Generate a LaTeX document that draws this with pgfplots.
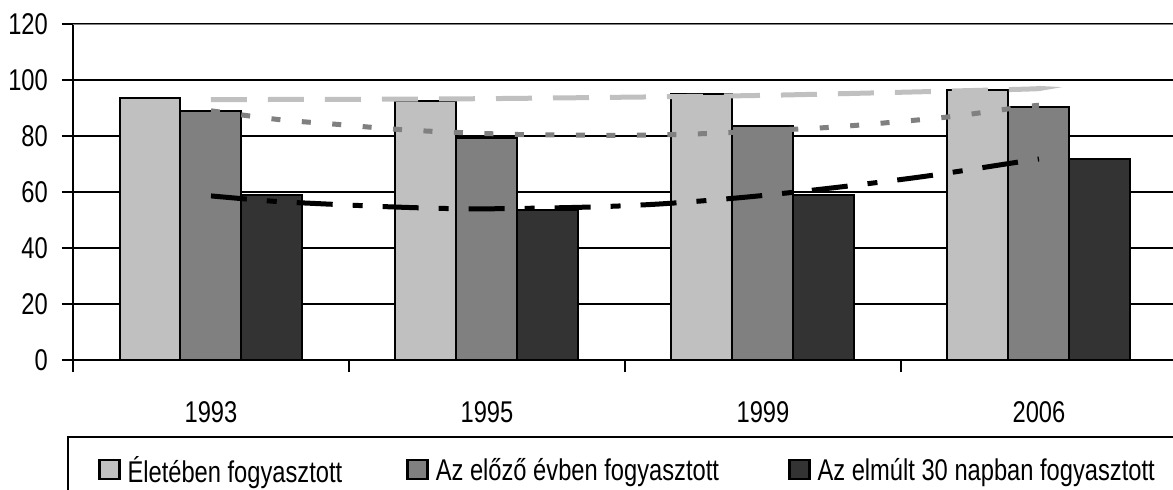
\documentclass[border=0pt]{standalone}
\usepackage{fontspec}
\setmainfont{Liberation Sans}[FakeStretch=0.79]
\usepackage{pgfplots}
\pgfplotsset{compat=1.18}
\definecolor{cLight}{HTML}{C0C0C0}
\definecolor{cMid}{HTML}{808080}
\definecolor{cDark}{HTML}{333333}
\begin{document}
\fontsize{30}{36}\selectfont
\begin{tikzpicture}
\begin{axis}[
  scale only axis,
  width=1104pt, height=336pt,
  xmin=-0.5, xmax=3.5, ymin=0, ymax=120,
  axis lines*=left,
  axis line style={line width=2pt, black},
  ytick={0,20,...,120},
  ymajorgrids, grid style={line width=1.8pt, black},
  xtick={0,1,2,3}, xticklabels={1993,1995,1999,2006},
  minor xtick={-0.5,0.5,1.5,2.5},
  tick align=outside,
  major tick length=11pt, minor tick length=12pt,
  tick style={line width=2pt, black},
  major x tick style={draw=none},
  /pgf/number format/assume math mode=true,
  tick label style={font=\fontsize{30}{36}\selectfont},
  xticklabel style={yshift=-20pt},
  yticklabel style={xshift=-4pt},
  legend columns=3,
  legend style={at={(-0.0054,-0.226)}, anchor=north west, draw=black, line width=2pt,
     inner xsep=30pt, inner ysep=18pt, font=\fontsize{30}{36}\selectfont,
     /tikz/every odd column/.append style={column sep=5pt}},
  legend image code/.code={\draw[#1, line width=2.5pt, draw=black] (0pt,-7pt) rectangle (20pt,12pt);},
]
\addplot[ybar, bar width=0.221, bar shift=-0.221, fill=cLight, draw=black, line width=2pt]
  coordinates {(0,93.4) (1,92.6) (2,95.1) (3,96.6)};
\addlegendentry{Életében fogyasztott\rule{62pt}{0pt}}
\addplot[ybar, bar width=0.221, bar shift=0, fill=cMid, draw=black, line width=2pt]
  coordinates {(0,89.1) (1,79.3) (2,83.5) (3,90.3)};
\addlegendentry{Az előző évben fogyasztott\rule{67pt}{0pt}}
\addplot[ybar, bar width=0.221, bar shift=0.221, fill=cDark, draw=black, line width=2pt]
  coordinates {(0,58.8) (1,53.5) (2,59.1) (3,71.8)};
\addlegendentry{Az elmúlt 30 napban fogyasztott\rule{60pt}{0pt}}
% trend lines
\addplot[forget plot, smooth, no marks, color=cLight, line width=5pt, dash pattern=on 36pt off 21pt]
  coordinates {(0,93.0) (0.8,93.2) (1.45,93.8) (2.05,94.6) (2.9,96.6) (3,97.0)};
\addplot[forget plot, smooth, no marks, color=cMid, line width=5pt, dash pattern=on 9pt off 21.5pt]
  coordinates {(0,89.0) (0.243,85.9) (0.464,84.1) (0.685,82.3) (0.909,81.2) (1.13,80.5) (1.355,80.3) (1.58,80.3) (1.801,80.9) (2.025,82.0) (2.243,83.1) (2.467,84.9) (2.688,87.0) (2.913,90.0) (3,91.0)};
\addplot[forget plot, smooth, no marks, color=black, line width=5pt, dash pattern=on 36pt off 20pt on 10pt off 20pt]
  coordinates {(0,58.6) (0.225,56.7) (0.377,55.9) (0.649,54.7) (0.855,54.1) (1.011,54.0) (1.362,54.6) (1.638,55.8) (1.953,58.3) (2.272,61.7) (2.587,65.6) (2.906,70.4) (3,71.8)};
\draw[cMid, line width=1.8pt] (rel axis cs:0,1) -- (rel axis cs:1,1);
\coordinate (O) at (rel axis cs:0,0);
\end{axis}
\pgfresetboundingbox
\path[use as bounding box] ([xshift=-73pt,yshift=-130pt]O) rectangle ([xshift=1100pt,yshift=360pt]O);
\end{tikzpicture}
\end{document}
